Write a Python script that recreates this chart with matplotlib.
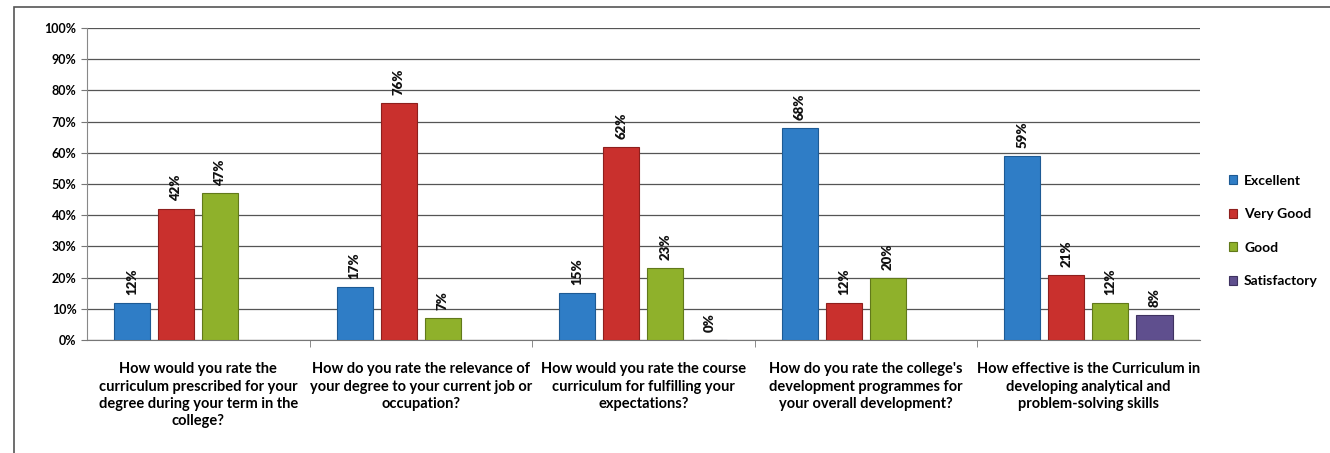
import numpy as np
import matplotlib.pyplot as plt
from matplotlib.patches import Rectangle
from matplotlib.ticker import FixedLocator, PercentFormatter

plt.rcParams['font.family'] = ['Lato', 'DejaVu Sans']

questions = [
    "How would you rate the\ncurriculum prescribed for your\ndegree during your term in the\ncollege?",
    "How do you rate the relevance of\nyour degree to your current job or\noccupation?",
    "How would you rate the course\ncurriculum for fulfilling your\nexpectations?",
    "How do you rate the college's\ndevelopment programmes for\nyour overall development?",
    "How effective is the Curriculum in\ndeveloping analytical and\nproblem-solving skills",
]
series = ["Excellent", "Very Good", "Good", "Satisfactory"]
excellent = [12, 17, 15, 68, 59]
very_good = [42, 76, 62, 12, 21]
good = [47, 7, 23, 20, 12]
satisfactory = [np.nan, np.nan, 0, np.nan, 8]

colors = ["#2f7dc6", "#c9302d", "#8fb12b", "#5f4f8e"]
edges = ["#1d5a94", "#8e1f1d", "#61791a", "#3e3260"]

fig = plt.figure(figsize=(13.3, 4.53), dpi=100)
ax = fig.add_axes([0.0654, 0.2494, 0.8366, 0.6886])

x = np.arange(len(questions))
pitch = 0.198
width = 0.162
for i, (name, vals) in enumerate(zip(series, [excellent, very_good, good, satisfactory])):
    pos = x + (i - 1.5) * pitch
    ax.bar(pos, vals, width, color=colors[i], edgecolor=edges[i], linewidth=0.8,
           label=name, zorder=3)
    for p, v in zip(pos, vals):
        if np.isnan(v):
            continue
        ax.text(p, v + 2.5, f"{v:.0f}%", rotation=90, ha='center', va='bottom',
                fontsize=9.5, fontweight='heavy', color='#111111')

ax.set_xlim(-0.5, len(questions) - 0.5)
ax.set_ylim(0, 100)
ax.set_yticks(np.arange(0, 101, 10))
ax.yaxis.set_major_formatter(PercentFormatter(decimals=0))
ax.grid(axis='y', color='#555555', linewidth=0.9, zorder=0)
ax.set_axisbelow(True)

ax.set_xticks(x)
ax.set_xticklabels(questions, fontsize=10.5, fontweight='bold', linespacing=1.3)
ax.tick_params(axis='x', length=0, pad=16)
ax.xaxis.set_minor_locator(FixedLocator(np.arange(0.5, len(questions) - 0.5, 1)))
ax.tick_params(axis='x', which='minor', length=5, color='#777777')
ax.tick_params(axis='y', length=4, color='#777777', labelsize=9)
for lab in ax.get_yticklabels():
    lab.set_fontweight('bold')

for s in ['top', 'right']:
    ax.spines[s].set_visible(False)
ax.spines['left'].set_color('#888888')
ax.spines['bottom'].set_color('#777777')

leg = ax.legend(loc='center left', bbox_to_anchor=(1.015, 0.35), frameon=False,
                handlelength=0.6, handleheight=0.6, labelspacing=1.55, fontsize=10,
                handletextpad=0.5)
for t in leg.get_texts():
    t.set_fontweight('bold')

# frame of the scanned chart
fig.patches.append(Rectangle((0.0105, -0.1), 1.2, 1.085, transform=fig.transFigure,
                             fill=False, edgecolor='#555555', linewidth=1.2))

fig.savefig("out.png", dpi=100)
